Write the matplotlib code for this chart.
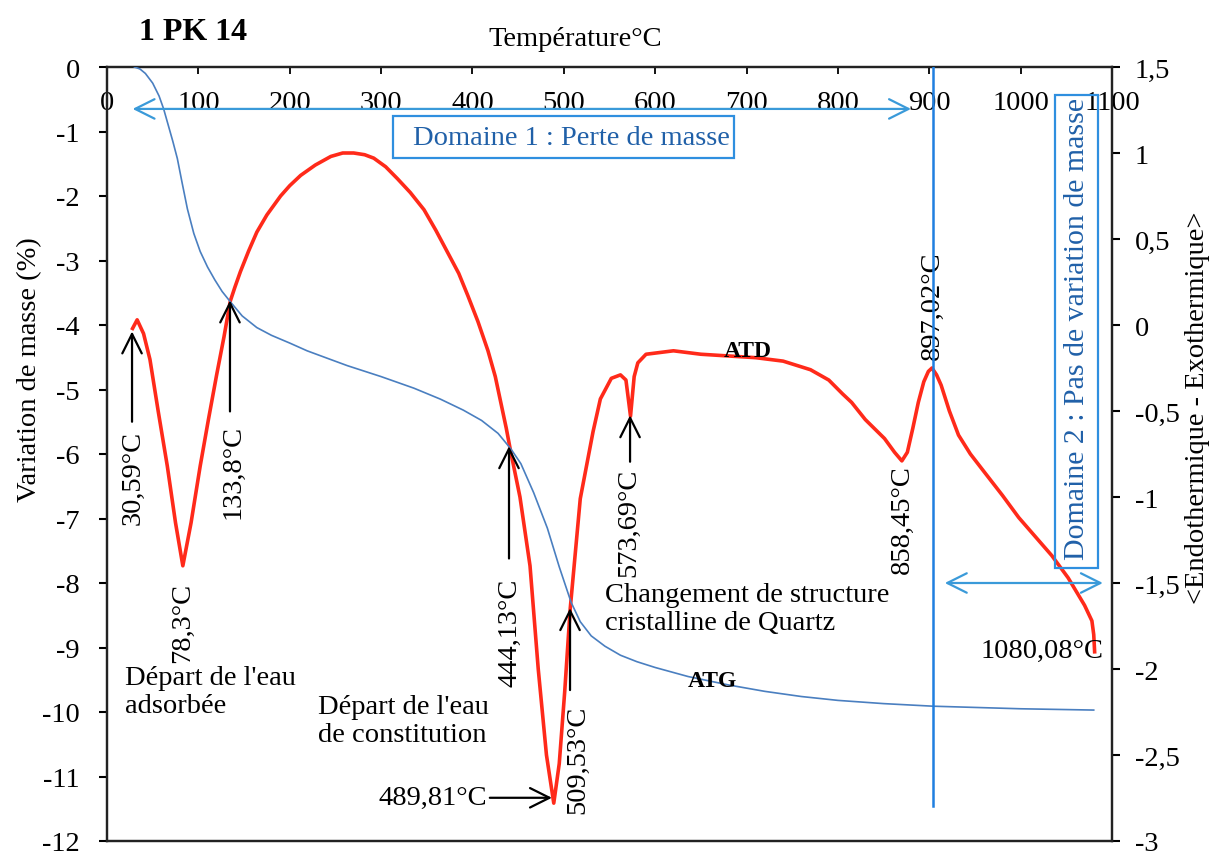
import numpy as np
import matplotlib
matplotlib.use("Agg")
import matplotlib.pyplot as plt
from matplotlib.ticker import FuncFormatter, MultipleLocator
from matplotlib.patches import Rectangle

plt.rcParams['font.family'] = ['Liberation Serif', 'DejaVu Serif']
plt.rcParams['axes.unicode_minus'] = False

# ATG : mass variation (%) vs temperature (left axis)
atg_temp = [30, 36, 42, 50, 57, 62, 68, 72, 77, 82, 88, 95, 102, 110, 118,
            126, 135, 148, 164, 180, 200, 219, 240, 263, 300, 336, 365, 390,
            410, 428, 442, 453, 467, 482, 495, 508, 518, 530, 545, 562, 580,
            600, 636, 680, 720, 760, 800, 850, 904, 1000, 1080]
atg_mass = [0, -0.03, -0.1, -0.25, -0.45, -0.65, -0.95, -1.15, -1.42, -1.78,
            -2.2, -2.58, -2.86, -3.1, -3.3, -3.48, -3.64, -3.86, -4.04, -4.16,
            -4.28, -4.40, -4.51, -4.63, -4.80, -4.98, -5.15, -5.32, -5.48,
            -5.68, -5.92, -6.15, -6.6, -7.15, -7.75, -8.3, -8.6, -8.82, -8.98,
            -9.12, -9.22, -9.31, -9.45, -9.58, -9.68, -9.76, -9.82, -9.87,
            -9.91, -9.95, -9.97]

# ATD : thermal signal vs temperature (right axis)
atd_temp = [28, 33, 40, 47, 56, 66, 75, 83, 92, 102, 111, 120, 128, 135, 140,
            146, 155, 164, 175, 190, 200, 212, 228, 245, 258, 270, 282, 292,
            305, 318, 332, 347, 360, 373, 385, 395, 406, 417, 425, 431, 437,
            442, 452, 463, 472, 481, 489, 495, 501, 507, 518, 532, 540, 552,
            562, 568, 573, 577, 581, 590, 620, 650, 680, 710, 740, 770, 790,
            805, 815, 830, 851, 862, 870, 876, 882, 888, 894, 899, 903, 908,
            913, 922, 932, 945, 961, 980, 998, 1016, 1034, 1052, 1070, 1078,
            1080, 1081]
atd_sig = [-0.02, 0.03, -0.05, -0.2, -0.5, -0.82, -1.15, -1.40, -1.15, -0.82,
           -0.55, -0.29, -0.07, 0.14, 0.22, 0.31, 0.43, 0.54, 0.64, 0.75, 0.81,
           0.87, 0.93, 0.98, 1.0, 1.0, 0.99, 0.97, 0.92, 0.85, 0.77, 0.67,
           0.55, 0.42, 0.30, 0.17, 0.02, -0.15, -0.30, -0.45, -0.6, -0.74,
           -1.0, -1.40, -2.0, -2.5, -2.78, -2.55, -2.13, -1.65, -1.01, -0.62,
           -0.43, -0.31, -0.29, -0.32, -0.53, -0.3, -0.22, -0.17, -0.15,
           -0.17, -0.18, -0.19, -0.21, -0.26, -0.32, -0.40, -0.45, -0.55,
           -0.66, -0.74, -0.79, -0.74, -0.6, -0.45, -0.33, -0.27, -0.25,
           -0.29, -0.35, -0.5, -0.64, -0.75, -0.86, -0.99, -1.12, -1.23,
           -1.34, -1.47, -1.63, -1.72, -1.8, -1.9]

x_ticks = list(range(0, 1200, 100))

FS = 20.5
BLUE_BOX = '#2f8fdf'
BLUE_TXT = '#2060a8'

fig = plt.figure(figsize=(12.13, 8.54), dpi=100)
ax = fig.add_axes([107 / 1213, 12 / 854, 1005 / 1213, 774 / 854])
ax2 = ax.twinx()

# curves
ax2.plot(atd_temp, atd_sig, color='#ff2a1a', lw=2.6, zorder=2)
ax.plot(atg_temp, atg_mass, color='#4a7fc0', lw=1.2, zorder=3)

ax.set_xlim(0, 1100)
ax.set_ylim(-12, 0)
ax2.set_ylim(-3, 1.5)
ax.set_zorder(ax2.get_zorder() + 1)
ax.patch.set_visible(False)

# top x axis with labels inside the plot
ax.xaxis.tick_top()
ax.set_xticks(x_ticks)
ax.tick_params(axis='x', direction='in', length=5, width=1.3, pad=-34.5,
               labelsize=FS, top=True, bottom=False)
ax.yaxis.set_major_locator(MultipleLocator(1))
ax.tick_params(axis='y', direction='out', length=6, width=1.5, pad=13.5,
               labelsize=FS)
ax2.yaxis.set_major_locator(MultipleLocator(0.5))
ax2.yaxis.set_major_formatter(FuncFormatter(lambda v, p: f"{v:g}".replace('.', ',')))
ax2.tick_params(axis='y', direction='out', length=6, width=1.5, pad=10.5,
                labelsize=FS)
for a in (ax, ax2):
    for s in a.spines.values():
        s.set_linewidth(1.6)
        s.set_color('#222222')

# titles
fig.text(193 / 1213, 1 - 32 / 854, '1 PK 14', fontsize=23, fontweight='bold',
         ha='center', va='center')
fig.text(575 / 1213, 1 - 40 / 854, 'Température°C', fontsize=FS,
         ha='center', va='center')
fig.text(30 / 1213, 1 - 370 / 854, 'Variation de masse (%)', fontsize=FS,
         rotation=90, ha='center', va='center')
fig.text(1198 / 1213, 1 - 408 / 854, '<Endothermique - Exothermique>',
         fontsize=FS, rotation=90, ha='center', va='center')

# domain 1
ax.annotate('', xy=(28, -0.65), xytext=(880, -0.65),
            arrowprops=dict(arrowstyle='<->,head_length=0.7,head_width=0.35',
                            color='#3a9ad9', lw=1.6, mutation_scale=20,
                            shrinkA=0, shrinkB=0))
ax.add_patch(Rectangle((313, -1.41), 373, 0.65, fill=False,
                       edgecolor=BLUE_BOX, lw=1.6, zorder=4))
ax.text(335, -1.10, 'Domaine 1 : Perte de masse', fontsize=FS,
        color=BLUE_TXT, ha='left', va='center', zorder=5)

# domain 2
ax.plot([904, 904], [0, -11.46], color='#1f7fe0', lw=1.8, zorder=4)
ax.add_patch(Rectangle((1037.6, -7.77), 47.4, 7.34, fill=False,
                       edgecolor=BLUE_BOX, lw=1.6, zorder=4))
ax.text(1062, -4.05, 'Domaine 2 : Pas de variation de masse', fontsize=21.5,
        color=BLUE_TXT, rotation=90, ha='center', va='center', zorder=5)
ax.annotate('', xy=(917, -8.0), xytext=(1090, -8.0),
            arrowprops=dict(arrowstyle='<->,head_length=0.7,head_width=0.35',
                            color='#3a9ad9', lw=1.6, mutation_scale=20,
                            shrinkA=0, shrinkB=0))

# peak annotations
arrow_kw = dict(arrowstyle='->,head_length=0.7,head_width=0.35', color='black',
                lw=1.6, mutation_scale=20, shrinkA=0, shrinkB=0)
ax.annotate('', xy=(27.4, -4.10), xytext=(27.4, -5.50), arrowprops=arrow_kw)
ax.text(28.5, -6.35, '30,59°C', fontsize=FS, rotation=90, ha='center', va='center')
ax.text(83.2, -8.61, '78,3°C', fontsize=FS, rotation=90, ha='center', va='center')
ax.annotate('', xy=(134.6, -3.62), xytext=(134.6, -5.34), arrowprops=arrow_kw)
ax.text(138, -6.26, '133,8°C', fontsize=FS, rotation=90, ha='center', va='center')
ax.annotate('', xy=(440, -5.88), xytext=(440, -7.62), arrowprops=arrow_kw)
ax.text(441, -8.75, '444,13°C', fontsize=FS, rotation=90, ha='center', va='center')
ax.annotate('', xy=(506.8, -8.39), xytext=(506.8, -9.66), arrowprops=arrow_kw)
ax.text(515.5, -10.73, '509,53°C', fontsize=FS, rotation=90, ha='center', va='center')
ax.annotate('', xy=(487, -11.33), xytext=(419, -11.33), arrowprops=arrow_kw)
ax.text(416, -11.33, '489,81°C', fontsize=FS, ha='right', va='center')
ax.annotate('', xy=(572.5, -5.40), xytext=(572.5, -6.12), arrowprops=arrow_kw)
ax.text(571, -7.05, '573,69°C', fontsize=FS, rotation=90, ha='center', va='center')
ax.text(871, -7.0, '858,45°C', fontsize=FS, rotation=90, ha='center', va='center')
ax.text(903, -3.69, '897,02°C', fontsize=FS, rotation=90, ha='center', va='center')
ax.text(1091, -9.04, '1080,08°C', fontsize=FS, ha='right', va='center')

ax.text(701.6, -4.40, 'ATD', fontsize=17, fontweight='bold', ha='center', va='center')
ax.text(663, -9.51, 'ATG', fontsize=17, fontweight='bold', ha='center', va='center')

ax.text(19.7, -9.68, "Départ de l'eau\nadsorbée", fontsize=FS,
        ha='left', va='center', linespacing=1.15)
ax.text(231, -10.13, "Départ de l'eau\nde constitution", fontsize=FS,
        ha='left', va='center', linespacing=1.15)
ax.text(545, -8.39, "Changement de structure\ncristalline de Quartz",
        fontsize=FS, ha='left', va='center', linespacing=1.15)

fig.savefig('out.png', dpi=100)
